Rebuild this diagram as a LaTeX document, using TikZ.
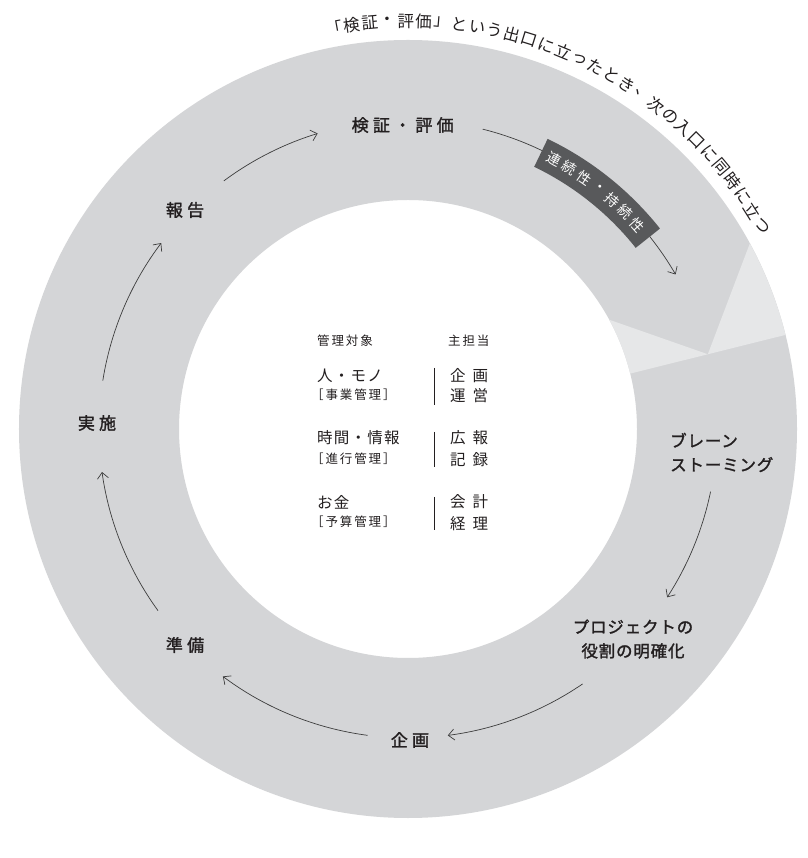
\documentclass[tikz,border=0pt]{standalone}
\usepackage{fontspec}
\setmainfont{Noto Sans CJK JP}
\newfontfamily\medfont[FakeBold=1.6]{Noto Sans CJK JP}
\usetikzlibrary{arrows.meta}
\definecolor{ringc}{HTML}{D4D5D7}
\definecolor{lightc}{HTML}{E6E7E8}
\definecolor{darkc}{HTML}{58595B}
\definecolor{inkc}{HTML}{231F20}
\definecolor{arrc}{HTML}{3C3C3C}
\begin{document}
\begin{tikzpicture}[x=1pt,y=1pt,
  lbl/.style={font=\fontsize{17}{22}\selectfont\medfont\addfontfeatures{LetterSpace=25}, text=inkc, inner sep=0pt},
  lblk/.style={font=\fontsize{16.5}{24}\selectfont\medfont\addfontfeatures{LetterSpace=5}, text=inkc, inner sep=0pt},
  arr/.style={draw=arrc, line width=0.7pt, -{Straight Barb[length=6pt,width=11pt]}},
  plainline/.style={draw=arrc, line width=0.7pt},
  tbig/.style={font=\fontsize{15.5}{18}\selectfont\addfontfeatures{LetterSpace=8}, text=inkc, inner sep=0pt, anchor=west},
  tsmall/.style={font=\fontsize{12.5}{15}\selectfont\addfontfeatures{LetterSpace=15}, text=inkc, inner sep=0pt, anchor=west},
  trt/.style={font=\fontsize{15.5}{18}\selectfont\addfontfeatures{LetterSpace=45}, text=inkc, inner sep=0pt, anchor=west},
  vbar/.style={draw=inkc, line width=0.8pt},
  arctext/.style={font=\fontsize{16.5}{18}\selectfont, text=inkc, inner sep=0pt},
  boxtext/.style={font=\fontsize{14}{16}\selectfont, text=white, inner sep=0pt},
]
\useasboundingbox (-408,-429) rectangle (399,429);
\fill[white] (-408,-429) rectangle (399,429);

% ring
\fill[ringc, even odd rule] (0,0) circle[radius=389] (0,0) circle[radius=229];
\fill[lightc] (28.5:229) -- (14:309) -- (14:229) arc[start angle=14, end angle=28.5, radius=229] -- cycle;
\fill[lightc] (14:309) -- (14:389) arc[start angle=14, end angle=28.5, radius=389] -- cycle;

% dark band
\fill[darkc] (64.3:291) arc[start angle=64.3, end angle=38.5, radius=291] -- (38.5:322) arc[start angle=38.5, end angle=64.3, radius=322] -- cycle;
\foreach \ch [count=\i from 0] in {連,続,性,・,持,続,性}{
  \pgfmathsetmacro\ang{61.6-3.33*\i}
  \node[boxtext, rotate=\ang-90] (b\i) at (\ang:307) {\ch};
}

% labels
\node[lbl] (kensho) at (91:304) {検証・評価};
\node[lbl] (hokoku) at (-223,219) {報告};
\node[lbl] (jisshi) at (-311,6) {実施};
\node[lbl] (junbi) at (-223,-216) {準備};
\node[lbl] (kikaku) at (2,-311) {企画};
\node[lblk, align=center] (yakuwari) at (225,-210) {プロジェクトの\\役割の明確化};
\node[lblk, align=left, anchor=west] (brain) at (262,-23.5) {ブレーン\\ストーミング};

% arrows along the ring
\coordinate (a1s) at (171:309); \coordinate (a1e) at (143:309);
\draw[arr] (a1s) arc[start angle=171, end angle=143, radius=309];
\coordinate (a2s) at (126.6:309); \coordinate (a2e) at (107:309);
\draw[arr] (a2s) arc[start angle=126.6, end angle=107, radius=309];
\coordinate (a3s) at (76:309); \coordinate (a3e) at (64.3:309);
\draw[plainline] (a3s) arc[start angle=76, end angle=64.3, radius=309];
\coordinate (a4s) at (38.5:309); \coordinate (a4e) at (30:309);
\draw[arr] (a4s) arc[start angle=38.5, end angle=30, radius=309];
\coordinate (a5s) at (-11.7:309); \coordinate (a5e) at (-33:309);
\draw[arr] (a5s) arc[start angle=-11.7, end angle=-33, radius=309];
\coordinate (a6s) at (-55.6:309); \coordinate (a6e) at (-82.6:309);
\draw[arr] (a6s) arc[start angle=-55.6, end angle=-82.6, radius=309];
\coordinate (a7s) at (-97.5:309); \coordinate (a7e) at (-126.8:309);
\draw[arr] (a7s) arc[start angle=-97.5, end angle=-126.8, radius=309];
\coordinate (a8s) at (-144:309); \coordinate (a8e) at (-172:309);
\draw[arr] (a8s) arc[start angle=-144, end angle=-172, radius=309];

% curved caption
\foreach \ch [count=\i from 0] in {「,検,証,・,評,価,」,と,い,う,出,口,に,立,っ,た,と,き,、,次,の,入,口,に,同,時,に,立,つ}{
  \pgfmathsetmacro\ang{100.4-2.52*\i}
  \node[arctext, rotate=\ang-90] (t\i) at (\ang:408) {\ch};
}

% table
\node[tsmall] (h1) at (-91,88) {管理対象};
\node[tsmall] (h2) at (40,88) {主担当};
\node[tbig] (l1) at (-91,53) {人・モノ};
\node[tsmall] (l1s) at (-97,34) {［事業管理］};
\node[trt] (r1) at (42,53) {企画};
\node[trt] (r1s) at (42,33) {運営};
\draw[vbar] (26,61) -- (26,24);
\node[tbig] (l2) at (-91,-9) {時間・情報};
\node[tsmall] (l2s) at (-97,-30) {［進行管理］};
\node[trt] (r2) at (42,-9) {広報};
\node[trt] (r2s) at (42,-31) {記録};
\draw[vbar] (26,-3) -- (26,-38);
\node[tbig] (l3) at (-91,-73) {お金};
\node[tsmall] (l3s) at (-97,-93) {［予算管理］};
\node[trt] (r3) at (42,-73) {会計};
\node[trt] (r3s) at (42,-95) {経理};
\draw[vbar] (26,-68) -- (26,-101);
\end{tikzpicture}
\end{document}
